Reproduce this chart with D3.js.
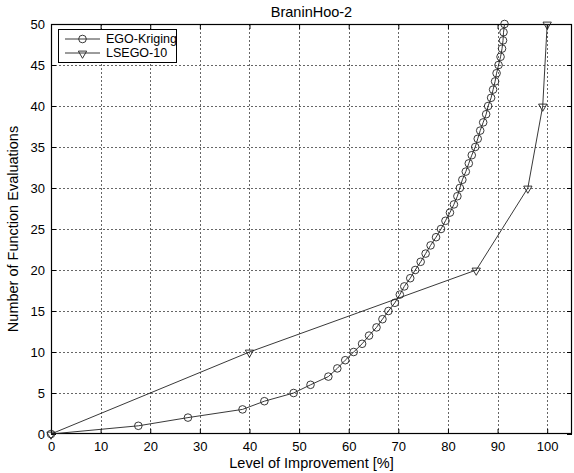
<!DOCTYPE html>
<html>
<head>
<meta charset="utf-8">
<script src="https://cdn.jsdelivr.net/npm/d3@7"></script>
<style>
  body { margin: 0; background: #fff; }
  svg { display: block; font-family: "Liberation Sans", Arial, sans-serif; }
</style>
</head>
<body>
<div id="chart"></div>
<script>
// data
const egoY = d3.range(0, 51);
const egoX = [0, 17.6, 27.6, 38.6, 43.0, 48.9, 52.3, 55.9, 57.7, 59.3,
  61.0, 62.7, 64.1, 65.6, 66.8, 68.0, 69.3, 70.3, 71.2, 72.4,
  73.4, 74.5, 75.5, 76.5, 77.6, 78.6, 79.5, 80.4, 81.2, 81.9,
  82.4, 82.9, 83.6, 84.2, 84.8, 85.5, 86.0, 86.5, 87.1, 87.7,
  88.1, 88.7, 89.1, 89.5, 89.8, 90.2, 90.6, 90.9, 91.1, 91.2, 91.4];
const lsegoX = [0, 40, 85.7, 96.1, 99.1, 100];
const lsegoY = [0, 10, 20, 30, 40, 50];
const xTicks = d3.range(0, 101, 10);
const yTicks = d3.range(0, 51, 5);

const ego = egoX.map((x, i) => ({x: x, y: egoY[i]}));
const lsego = lsegoX.map((x, i) => ({x: x, y: lsegoY[i]}));

let margin = {top: 24, right: 2, bottom: 39, left: 51};
let width = 574 - margin.left - margin.right;
let height = 473 - margin.top - margin.bottom;

const svg = d3.select('#chart').append('svg')
  .attr('width', 574)
  .attr('height', 473);

const g = svg.append('g')
  .attr('transform', `translate(${margin.left},${margin.top})`);

const x = d3.scaleLinear().domain([0, 105]).range([0, width]);
const y = d3.scaleLinear().domain([0, 50]).range([height, 0]);

// grid
g.append('g')
  .attr('stroke', '#666')
  .attr('stroke-width', 1)
  .attr('stroke-dasharray', '2,2')
  .selectAll('line.gx')
  .data(xTicks.filter(d => d > 0))
  .join('line')
    .attr('x1', d => Math.round(x(d)) + 0.5)
    .attr('x2', d => Math.round(x(d)) + 0.5)
    .attr('y1', 0).attr('y2', height);

g.append('g')
  .attr('stroke', '#666')
  .attr('stroke-width', 1)
  .attr('stroke-dasharray', '2,2')
  .selectAll('line')
  .data(yTicks.filter(d => d > 0 && d < 50))
  .join('line')
    .attr('y1', d => Math.round(y(d)) + 0.5)
    .attr('y2', d => Math.round(y(d)) + 0.5)
    .attr('x1', 0).attr('x2', width);

// axes (MATLAB style: ticks inward, on all four sides)
g.append('g')
  .attr('transform', `translate(0,${height})`)
  .call(d3.axisBottom(x).tickValues(xTicks).tickSizeInner(-5).tickSizeOuter(0).tickPadding(8));
g.append('g')
  .call(d3.axisLeft(y).tickValues(yTicks).tickSizeInner(-5).tickSizeOuter(0).tickPadding(6));
g.append('g')
  .call(d3.axisTop(x).tickValues(xTicks).tickSizeInner(-5).tickSizeOuter(0).tickFormat(''));
g.append('g')
  .attr('transform', `translate(${width},0)`)
  .call(d3.axisRight(y).tickValues(yTicks).tickSizeInner(-5).tickSizeOuter(0).tickFormat(''));

g.selectAll('.domain').remove();
g.selectAll('.tick line').attr('stroke', '#000');
g.selectAll('.tick text').attr('font-size', 13).attr('fill', '#000');

g.append('rect')
  .attr('x', 0.5).attr('y', 0.5)
  .attr('width', width - 1).attr('height', height - 1)
  .attr('fill', 'none')
  .attr('stroke', '#000')
  .attr('stroke-width', 1.2);

const line = d3.line().x(d => x(d.x)).y(d => y(d.y));

// EGO-Kriging
g.append('path')
  .datum(ego)
  .attr('d', line)
  .attr('fill', 'none')
  .attr('stroke', '#222')
  .attr('stroke-width', 0.9);
g.append('g')
  .selectAll('circle')
  .data(ego)
  .join('circle')
    .attr('cx', d => x(d.x))
    .attr('cy', d => y(d.y))
    .attr('r', 3.8)
    .attr('fill', 'none')
    .attr('stroke', '#222')
    .attr('stroke-width', 0.9);

// LSEGO-10
const tri = d3.symbol().type(d3.symbolTriangle).size(30);
g.append('path')
  .datum(lsego)
  .attr('d', line)
  .attr('fill', 'none')
  .attr('stroke', '#222')
  .attr('stroke-width', 0.9);
g.append('g')
  .selectAll('path')
  .data(lsego)
  .join('path')
    .attr('d', tri)
    .attr('transform', d => `translate(${x(d.x)},${y(d.y) + 0.5}) rotate(180)`)
    .attr('fill', 'none')
    .attr('stroke', '#222')
    .attr('stroke-width', 0.9);

// title and labels
svg.append('text')
  .attr('x', margin.left + width / 2)
  .attr('y', 17)
  .attr('text-anchor', 'middle')
  .attr('font-size', 14.5)
  .text('BraninHoo-2');

svg.append('text')
  .attr('x', margin.left + width / 2)
  .attr('y', 468)
  .attr('text-anchor', 'middle')
  .attr('font-size', 14.5)
  .text('Level of Improvement [%]');

svg.append('text')
  .attr('transform', `translate(18,${margin.top + height / 2}) rotate(-90)`)
  .attr('text-anchor', 'middle')
  .attr('font-size', 14.5)
  .text('Number of Function Evaluations');

// legend
const legend = svg.append('g').attr('transform', 'translate(58,29)');
legend.append('rect')
  .attr('x', 0.5).attr('y', 0.5)
  .attr('width', 118).attr('height', 33)
  .attr('fill', '#fff')
  .attr('stroke', '#000');

const items = [
  {name: 'EGO-Kriging', mark: 'circle'},
  {name: 'LSEGO-10', mark: 'tri'}
];
items.forEach((it, i) => {
  const row = legend.append('g').attr('transform', `translate(0,${10 + i * 14})`);
  row.append('line')
    .attr('x1', 7).attr('x2', 42)
    .attr('stroke', '#222').attr('stroke-width', 0.9);
  if (it.mark === 'circle') {
    row.append('circle').attr('cx', 24.5).attr('r', 3.8)
      .attr('fill', 'none').attr('stroke', '#222').attr('stroke-width', 0.9);
  } else {
    row.append('path').attr('d', tri)
      .attr('transform', 'translate(24.5,0.5) rotate(180)')
      .attr('fill', 'none').attr('stroke', '#222').attr('stroke-width', 0.9);
  }
  row.append('text')
    .attr('x', 48).attr('dy', '0.35em')
    .attr('font-size', 12.5)
    .text(it.name);
});
</script>
</body>
</html>
